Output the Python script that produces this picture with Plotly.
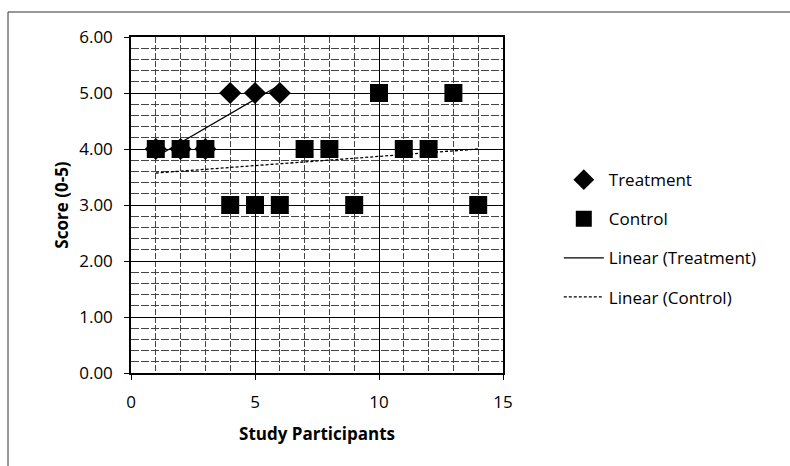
import numpy as np
import plotly.graph_objects as go

# Data
treat_x = [1, 2, 3, 4, 5, 6]
treat_y = [4, 4, 4, 5, 5, 5]
ctrl_x = [1, 2, 3, 4, 5, 6, 7, 8, 9, 10, 11, 12, 13, 14]
ctrl_y = [4, 4, 4, 3, 3, 3, 4, 4, 3, 5, 4, 4, 5, 3]

def linfit(x, y):
    m, b = np.polyfit(x, y, 1)
    xs = [min(x), max(x)]
    return xs, [m * v + b for v in xs]

tfx, tfy = linfit(treat_x, treat_y)
cfx, cfy = linfit(ctrl_x, ctrl_y)

FONT = "Open Sans"
fig = go.Figure()
fig.add_trace(go.Scatter(x=treat_x, y=treat_y, mode="markers", name="Treatment",
                         legendgroup="a",
                         marker=dict(symbol="diamond", size=17, color="black")))
fig.add_trace(go.Scatter(x=ctrl_x, y=ctrl_y, mode="markers", name="Control",
                         legendgroup="b",
                         marker=dict(symbol="square", size=18, color="black")))
fig.add_trace(go.Scatter(x=tfx, y=tfy, mode="lines", name="Linear (Treatment)",
                         legendgroup="c",
                         line=dict(color="black", width=1.3)))
fig.add_trace(go.Scatter(x=cfx, y=cfy, mode="lines", name="Linear (Control)",
                         legendgroup="d",
                         line=dict(color="black", width=1.3, dash="3px,2px")))

axis_common = dict(showline=True, linecolor="black", linewidth=1.5, mirror=True,
                   ticks="outside", tickcolor="black", ticklen=5, zeroline=False,
                   tickfont=dict(family=FONT, size=17, color="black"),
                   gridcolor="black", gridwidth=1.2)

fig.update_xaxes(range=[0, 15], dtick=5, tick0=0, showgrid=True, ticklabelstandoff=8,
                 minor=dict(dtick=1, showgrid=True, gridcolor="#444",
                            griddash="6px,2px", gridwidth=1, ticks=""),
                 title=dict(text="<b>Study Participants</b>", standoff=16,
                            font=dict(family=FONT, size=17, color="black")),
                 **axis_common)
fig.update_yaxes(range=[0, 6], dtick=1, tick0=0, tickformat=".2f", showgrid=True,
                 ticklabelstandoff=8,
                 minor=dict(dtick=0.2, showgrid=True, gridcolor="#444",
                            griddash="8px,2px", gridwidth=1, ticks=""),
                 title=dict(text="<b>Score (0-5)</b>", standoff=6,
                            font=dict(family=FONT, size=17, color="black")),
                 **axis_common)

fig.update_layout(
    width=790, height=466,
    margin=dict(l=131, r=287, t=37, b=93),
    paper_bgcolor="white", plot_bgcolor="white",
    showlegend=True,
    legend=dict(x=1.15, y=0.40, xanchor="left", yanchor="middle",
                traceorder="grouped", tracegroupgap=14,
                font=dict(family=FONT, size=17, color="black"),
                bgcolor="rgba(0,0,0,0)", itemwidth=40),
    shapes=[dict(type="rect", xref="paper", yref="paper",
                 x0=(8 - 131) / 372, x1=(800 - 131) / 372,
                 y0=(373 - 480) / 336, y1=(373 - 12) / 336,
                 line=dict(color="#333", width=1), layer="below")],
)

fig.write_html("out.html")
